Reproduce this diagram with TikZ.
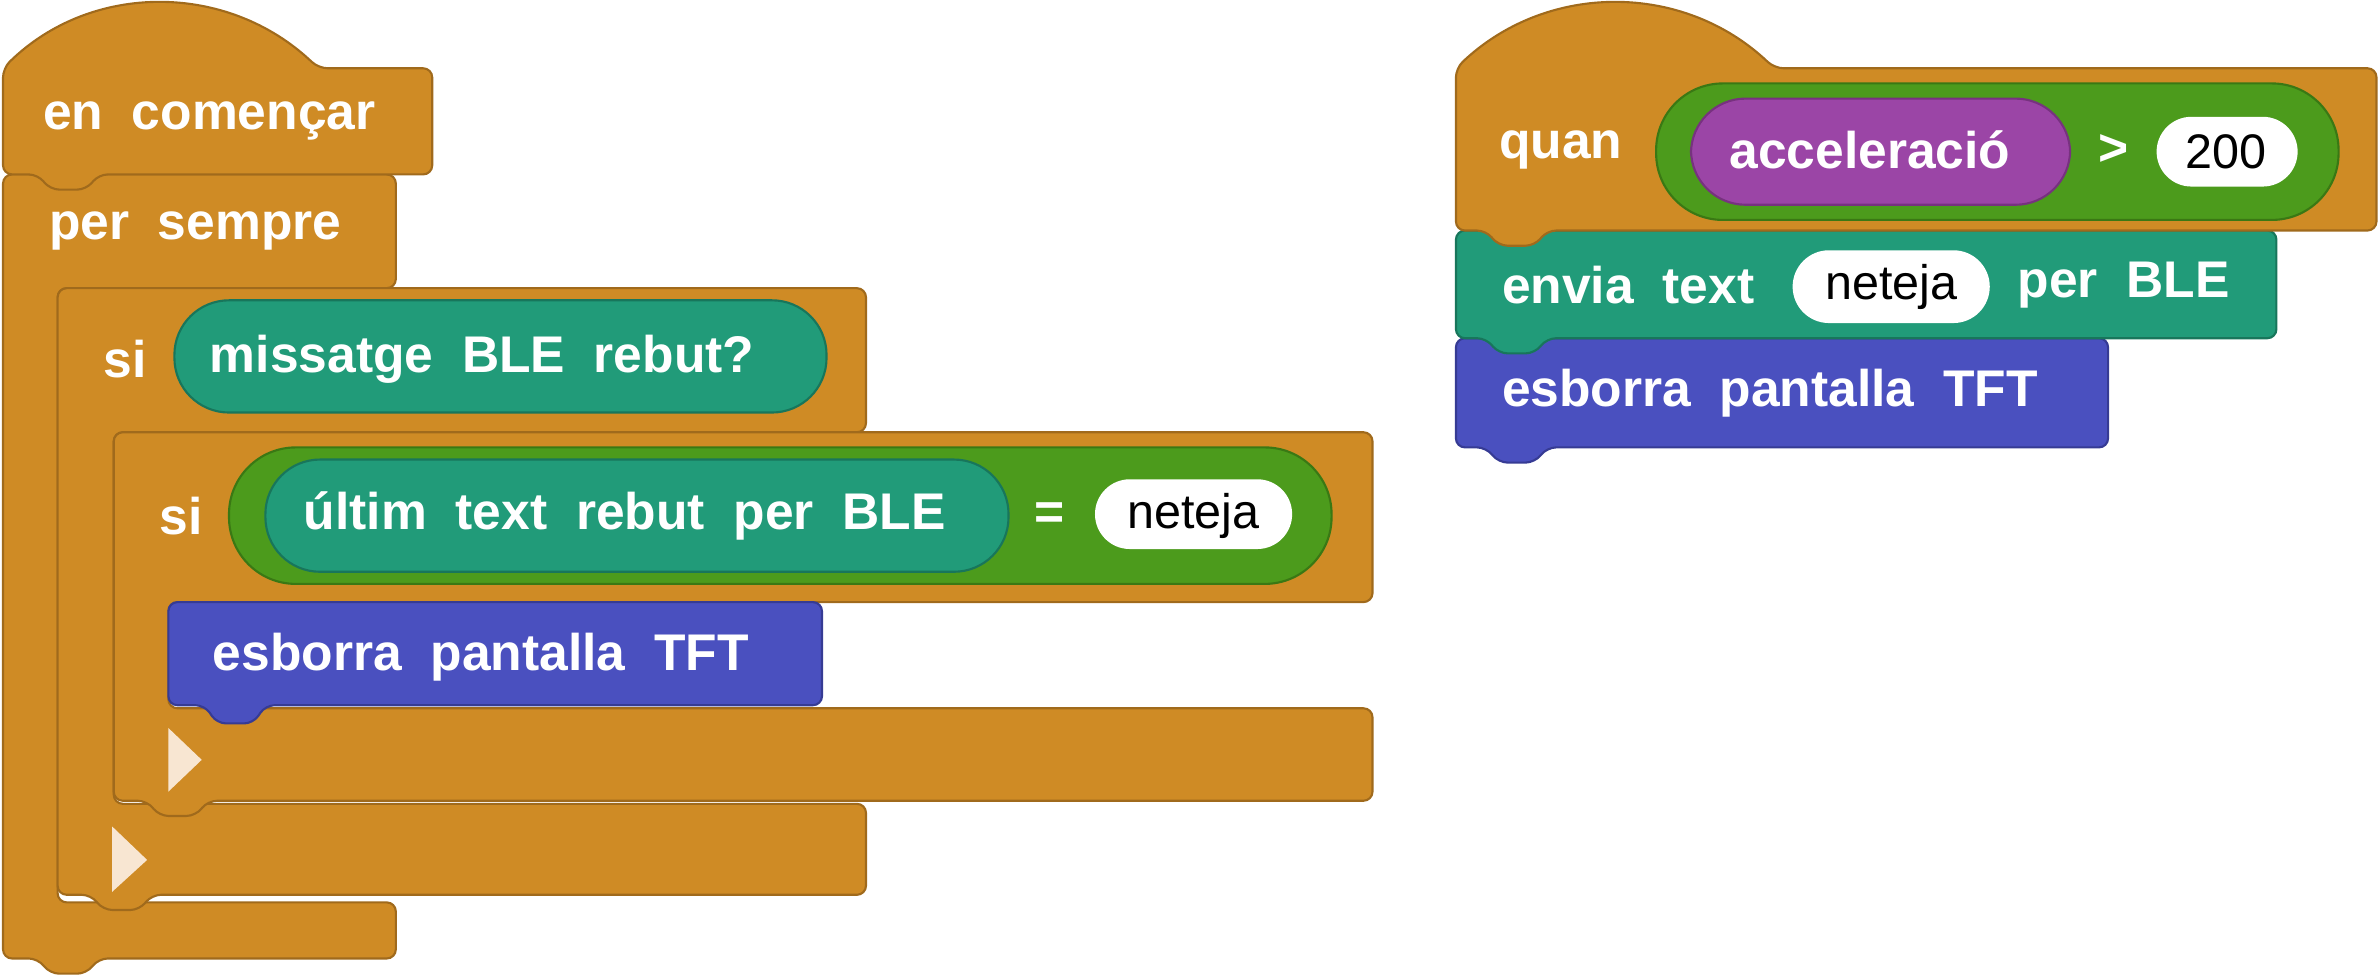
\documentclass[tikz,border=0pt]{standalone}
\usepackage{fontspec}
\setmainfont{Liberation Sans}
\begin{document}
\begin{tikzpicture}[x=0.5pt,y=-0.5pt,
 ctl/.style={fill=orangeC,draw=orangeD,line width=0.7pt,rounded corners=3pt},
 txt/.style={text=white,font=\fontsize{17}{19}\selectfont\bfseries,anchor=west,inner sep=0pt},
 pill/.style={rounded corners=11pt,line width=0.7pt},
 wtxt/.style={text=black,font=\fontsize{16}{19}\selectfont,inner sep=0pt}]
\definecolor{orangeC}{HTML}{CF8B25}\definecolor{orangeD}{HTML}{A06A1C}
\definecolor{tealC}{HTML}{219B79}\definecolor{tealD}{HTML}{18765B}
\definecolor{greenC}{HTML}{4C9B1C}\definecolor{greenD}{HTML}{3A7814}
\definecolor{blueC}{HTML}{4A50BF}\definecolor{blueD}{HTML}{363B94}
\definecolor{purpC}{HTML}{9B45A6}\definecolor{purpD}{HTML}{77327F}
\definecolor{creamC}{HTML}{F8E6D2}
\useasboundingbox (0,0) rectangle (1568,645);
% forever C
\path[ctl] (2,115)--(261,115)--(261,190)--(100,190)--(92,200)--(68,200)--(60,190)--(38,190)--(38,595)--(261,595)--(261,632)--(65,632)--(57,642)--(33,642)--(25,632)--(2,632)--cycle;
% si C
\path[ctl] (38,190)--(571,190)--(571,285)--(137,285)--(129,295)--(105,295)--(97,285)--(75,285)--(75,530)--(571,530)--(571,590)--(100,590)--(92,600)--(68,600)--(60,590)--(38,590)--cycle;
% inner si C
\path[ctl] (75,285)--(905,285)--(905,397)--(111,397)--(111,467)--(905,467)--(905,528)--(137,528)--(129,538)--(105,538)--(97,528)--(75,528)--cycle;
% esborra
\path[fill=blueC,draw=blueD,line width=0.7pt,rounded corners=3pt] (111,397)--(542,397)--(542,465)--(175,465)--(167,477)--(143,477)--(135,465)--(111,465)--cycle;
% hat
\path[ctl] (2,45) .. controls (60,-12) and (150,-12) .. (210,45) -- (285,45)--(285,115)--(65,115)--(57,125)--(33,125)--(25,115)--(2,115)--cycle;
\node[txt] (t1) at (28,80) {en\ \ començar};
\node[txt] (t2) at (32,152) {per\ \ sempre};
\node[txt] (t3) at (68,237) {si};
\path[fill=tealC,draw=tealD,pill,rounded corners=18pt] (115,198) rectangle (545,272);
\node[txt] (t4) at (138,237) {missatge\ \ BLE\ \ rebut?};
\node[txt] (t5) at (105,340) {si};
\path[fill=greenC,draw=greenD,rounded corners=22pt,line width=0.7pt] (151,295) rectangle (878,385);
\path[fill=tealC,draw=tealD,rounded corners=18pt,line width=0.7pt] (175,303) rectangle (665,377);
\node[txt] (t6) at (200,340) {últim\ \ text\ \ rebut\ \ per\ \ BLE};
\node[txt] (t7) at (682,340) {=};
\path[fill=white,rounded corners=11.5pt] (722,316) rectangle (852,362);
\node[wtxt] (t8) at (787,340) {neteja};
\node[txt] (t9) at (140,433) {esborra\ \ pantalla\ \ TFT};
\path[fill=creamC] (111,480)--(133,501)--(111,522)--cycle;
\path[fill=creamC] (74,545)--(97,567)--(74,588)--cycle;
% right stack
\path[fill=blueC,draw=blueD,line width=0.7pt,rounded corners=3pt] (960,223)--(1390,223)--(1390,295)--(1020,295)--(1012,305)--(988,305)--(980,295)--(960,295)--cycle;
\path[fill=tealC,draw=tealD,line width=0.7pt,rounded corners=3pt] (960,152)--(1501,152)--(1501,223)--(1020,223)--(1012,233)--(988,233)--(980,223)--(960,223)--cycle;
\path[ctl] (960,45) .. controls (1020,-12) and (1110,-12) .. (1170,45) -- (1567,45)--(1567,152)--(1020,152)--(1012,162)--(988,162)--(980,152)--(960,152)--cycle;
\node[txt] (r1) at (988,99) {quan};
\path[fill=greenC,draw=greenD,rounded corners=22pt,line width=0.7pt] (1092,55) rectangle (1542,145);
\path[fill=purpC,draw=purpD,rounded corners=18pt,line width=0.7pt] (1115,65) rectangle (1365,135);
\node[txt] (r2) at (1140,99) {acceleració};
\node[txt] (r3) at (1383,99) {>};
\path[fill=white,rounded corners=11.5pt] (1422,77) rectangle (1515,123);
\node[wtxt] (r4) at (1468,100) {200};
\node[txt] (r5) at (990,188) {envia\ \ text};
\path[fill=white,rounded corners=12pt] (1182,165) rectangle (1312,213);
\node[wtxt] (r6) at (1247,189) {neteja};
\node[txt] (r7) at (1330,188) {per\ \ BLE};
\node[txt] (r8) at (990,259) {esborra\ \ pantalla\ \ TFT};
\end{tikzpicture}
\end{document}
